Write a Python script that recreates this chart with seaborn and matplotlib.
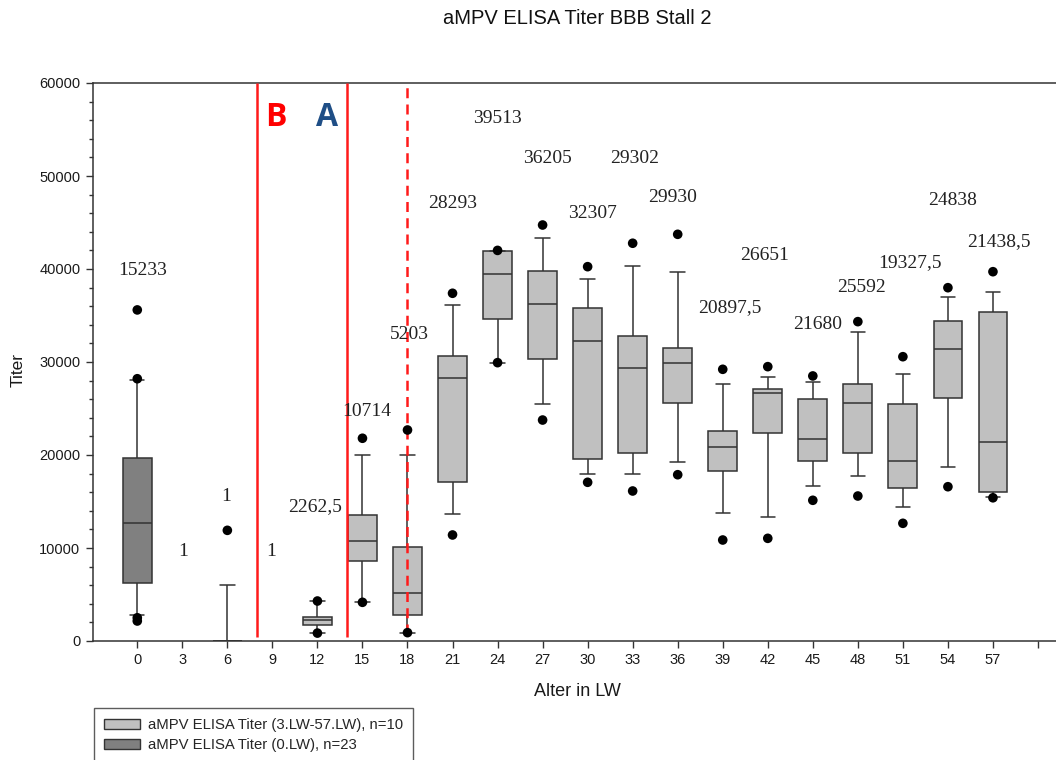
import numpy as np
import pandas as pd
import matplotlib
matplotlib.use("Agg")
import matplotlib.pyplot as plt
import matplotlib.patches as mpatches
import seaborn as sns

# Age in weeks (LW) and five-number summaries of the titers
weeks = [0, 6, 12, 15, 18, 21, 24, 27, 30, 33, 36, 39, 42, 45, 48, 51, 54, 57]
whisker_low = [2800, 0, 900, 4160, 900, 13690, 29930, 25450, 17925, 17990, 19250,
               13800, 13370, 16700, 17775, 14375, 18745, 15515]
q1 = [6200, 0, 1690, 8640, 2800, 17065, 34590, 30320, 19605, 20180, 25625,
      18245, 22365, 19355, 20180, 16450, 26095, 15990]
median = [12720, 0, 2262.5, 10714, 5203, 28293, 39513, 36205, 32307, 29302, 29930,
          20897.5, 26651, 21680, 25592, 19327.5, 31365, 21438.5]
q3 = [19710, 0, 2610, 13585, 10075, 30610, 41900, 39820, 35770, 32830, 31540,
      22615, 27100, 25990, 27670, 25520, 34410, 35345]
whisker_high = [28065, 6000, 4335, 19970, 19970, 36130, 41900, 43370, 38890, 40360, 39650,
                27670, 28420, 27885, 33260, 28745, 36960, 37560]
series = ["0"] + ["3-57"] * 17

# Individual points beyond the whiskers
dot_weeks = [0, 0, 0, 0, 6, 12, 12, 15, 15, 18, 18, 21, 21, 24, 24, 27, 27, 30, 30,
             33, 33, 36, 36, 39, 39, 42, 42, 45, 45, 48, 48, 51, 51, 54, 54, 57, 57]
dot_titers = [35600, 28200, 2500, 2150, 11900, 4300, 850, 21800, 4160, 22690, 900,
              37390, 11400, 42000, 29930, 44730, 23760, 40250, 17065, 42770, 16130,
              43730, 17880, 29215, 10860, 29500, 11040, 28500, 15130, 34340, 15590,
              30570, 12655, 37990, 16590, 39710, 15400]

# Printed values above the groups
label_text = ["15233", "1", "1", "1", "2262,5", "10714", "5203", "28293", "39513",
              "36205", "32307", "29302", "29930", "20897,5", "26651", "21680",
              "25592", "19327,5", "24838", "21438,5"]
label_x = [0.35, 3.05, 5.9, 8.95, 11.85, 15.3, 18.1, 21.0, 24.0, 27.3, 30.3, 33.1,
           35.65, 39.5, 41.8, 45.3, 48.25, 51.5, 54.3, 57.4]
label_y = [39800, 9600, 15500, 9600, 14400, 24700, 33000, 47000, 56200, 51900, 46000,
           51900, 47700, 35800, 41500, 34000, 38000, 40700, 47400, 42900]

xtick_values = list(range(0, 61, 3))
xtick_labels = [str(v) for v in range(0, 58, 3)] + [""]

legend_labels = {"3-57": "aMPV ELISA Titer (3.LW-57.LW), n=10",
                 "0": "aMPV ELISA Titer (0.LW), n=23"}
palette = {"0": "#808080", "3-57": "#c0c0c0"}

rows = []
for wk, lo, a, m, b, hi, s in zip(weeks, whisker_low, q1, median, q3, whisker_high, series):
    for v in (lo, a, m, b, hi):
        rows.append({"week": wk, "titer": v, "series": s})
box_df = pd.DataFrame(rows)
dot_df = pd.DataFrame({"week": dot_weeks, "titer": dot_titers})

sns.set_style("white")
plt.rcParams["font.family"] = ["Liberation Sans", "DejaVu Sans"]
text_color = "#1a1a1a"

fig = plt.figure(figsize=(10.56, 7.6), dpi=100)
ax = fig.add_axes([93 / 1056, 1 - 641 / 760, 1 - 93 / 1056, (641 - 83) / 760])

sns.boxplot(data=box_df, x="week", y="titer", hue="series", palette=palette,
            native_scale=True, dodge=False, width=0.64, whis=(0, 100),
            showfliers=False, linewidth=1.1, linecolor="#333333", legend=False,
            ax=ax, zorder=3)
sns.scatterplot(data=dot_df, x="week", y="titer", color="black", s=48,
                edgecolor="none", legend=False, ax=ax, zorder=5)

for t, x, y in zip(label_text, label_x, label_y):
    ax.text(x, y, t, ha="center", va="center", fontsize=14,
            family=["Liberation Serif", "DejaVu Serif"], color="#222222", zorder=6)

# Period markers
ax.vlines([8, 14], 450, 60000, colors="#ff1a1a", linewidth=1.8, zorder=4)
ax.vlines([18], 700, 60000, colors="#ff1a1a", linewidth=1.8,
          linestyles=(0, (4, 2.5)), zorder=4)
ax.text(9.2, 56300, "B", color="#ff0000", fontsize=23, fontweight="bold",
        family=["Open Sans", "DejaVu Sans"], ha="center", va="center")
ax.text(12.65, 56300, "A", color="#1f4e86", fontsize=23, fontweight="bold",
        family=["Open Sans", "DejaVu Sans"], ha="center", va="center")

ax.set_xlim(-2.95, 61.2)
ax.set_ylim(0, 60000)
ax.set_xticks(xtick_values)
ax.set_xticklabels(xtick_labels)
ax.set_yticks(range(0, 60001, 10000))
ax.set_yticks(range(0, 60001, 2000), minor=True)
ax.tick_params(axis="both", which="major", direction="out", length=5, width=1,
               color="#333333", labelsize=10.5, labelcolor=text_color, pad=4,
               bottom=True, left=True)
ax.tick_params(axis="y", which="minor", direction="out", length=3, width=1,
               color="#333333", left=True)

for side in ("left", "bottom", "top"):
    ax.spines[side].set_visible(True)
    ax.spines[side].set_color("#333333")
    ax.spines[side].set_linewidth(1.1)
ax.spines["right"].set_visible(False)
ax.grid(False)

ax.set_xlabel("Alter in LW", fontsize=13, color=text_color)
ax.set_ylabel("Titer", fontsize=12.5, color=text_color)
ax.xaxis.set_label_coords((577 - 93) / 963, (641 - 692) / 558)
ax.yaxis.set_label_coords((18 - 93) / 963, (641 - 370) / 558)
ax.xaxis.label.set_va("center")
ax.yaxis.label.set_va("center")

fig.text(577 / 1056, 1 - 18 / 760, "aMPV ELISA Titer BBB Stall 2", ha="center",
         va="center", fontsize=14.5, color="#111111")

handles = [mpatches.Patch(facecolor=palette[k], edgecolor="#333333", linewidth=1,
                          label=legend_labels[k]) for k in ("3-57", "0")]
leg = fig.legend(handles=handles, loc="upper left",
                 bbox_to_anchor=(94 / 1056, 1 - 708 / 760), fontsize=10.75,
                 frameon=True, fancybox=False, edgecolor="#333333",
                 handlelength=2.4, handleheight=0.7, handletextpad=0.5,
                 labelspacing=0.4, borderpad=0.7, borderaxespad=0)
leg.get_frame().set_linewidth(1)

fig.savefig("out.png", dpi=100)
